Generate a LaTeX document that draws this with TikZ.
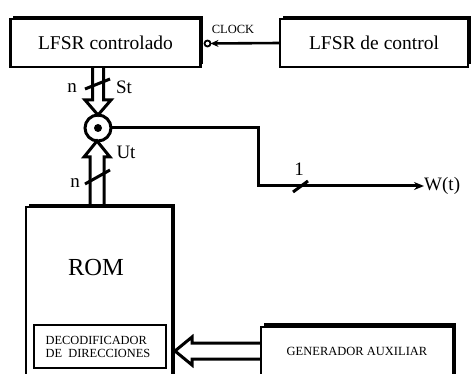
\documentclass[tikz,border=0pt]{standalone}
\usepackage{fontspec}
\setmainfont{Liberation Serif}
\usetikzlibrary{calc,shadows,arrows.meta}
\begin{document}
\begin{tikzpicture}[x=1pt,y=-1pt,
  ln/.style={line width=3pt, line join=miter},
  sbox/.style={draw, line width=2.6pt, fill=white, inner sep=0pt, outer sep=0pt,
    drop shadow={shadow xshift=2.5pt, shadow yshift=3pt, fill=black, opacity=1}},
  pbox/.style={draw, line width=2.4pt, fill=white, inner sep=0pt, outer sep=0pt},
  lbl/.style={inner sep=0pt, font=\fontsize{19}{20}\selectfont},
  big/.style={inner sep=0pt, font=\fontsize{19.5}{21}\selectfont},
  small/.style={inner sep=0pt, font=\fontsize{12.5}{14}\selectfont}
]
\useasboundingbox (0,0) rectangle (471,374);

% boxes
\node[sbox, minimum width=190pt, minimum height=48pt, big] (b1) at (105.5,43) {LFSR controlado};
\node[sbox, minimum width=188pt, minimum height=48pt, big] (b2) at (374,43) {LFSR de control};
\node[sbox, minimum width=146pt, minimum height=193pt] (rom) at (99,303.5) {};
\node[inner sep=0pt, font=\fontsize{24.5}{26}\selectfont] (romt) at (96,268) {ROM};
\node[pbox, minimum width=132pt, minimum height=43pt] (dec) at (100,346.5) {};
\node[small, align=left, font=\fontsize{12.4}{13.5}\selectfont] (dect) at (98,347) {DECODIFICADOR\\DE\ \ DIRECCIONES};
\node[sbox, minimum width=192pt, minimum height=73pt,
  drop shadow={shadow xshift=3pt, shadow yshift=4pt, fill=black, opacity=1}] (gen) at (357,363.5) {};
\node[small] (gent) at (357,351) {GENERADOR AUXILIAR};

% combiner
\node[draw, circle, line width=3pt, minimum size=26pt, inner sep=0pt, outer sep=0pt] (c) at (98,128) {};
\node[fill=black, circle, minimum size=8pt, inner sep=0pt] (cd) at (c) {};

% clock
\node[draw, circle, line width=1.8pt, minimum size=6pt, inner sep=0pt, outer sep=0pt] (ck) at (207.5,43.5) {};
\draw[line width=2.6pt, -{Stealth[length=8pt,width=7pt]}] (b2.west) -- (ck.east);
\node[inner sep=0pt, font=\fontsize{12.5}{14}\selectfont] (clk) at (233,29) {CLOCK};

% St double arrow (down)
\coordinate (s0) at (b1.south -| c.north);
\draw[ln] ($(s0)+(-5.5,0)$) -- ($(c.north)+(-5.5,-15)$) -- ($(c.north)+(-13,-15)$) -- (c.north)
  -- ($(c.north)+(13,-15)$) -- ($(c.north)+(5.5,-15)$) -- ($(s0)+(5.5,0)$);
\draw[ln] (85,89) -- (110,79);
\node[lbl] (n1) at (72,88) {n};
\node[lbl] (st) at (124,87) {St};

% Ut double arrow (up)
\coordinate (u0) at (rom.north -| 97,0);
\coordinate (u1) at ($(c.south)+(-1,0)$);
\draw[ln] ($(u0)+(-7,0)$) -- ($(u1)+(-7,16)$) -- ($(u1)+(-13,16)$) -- (u1)
  -- ($(u1)+(13,16)$) -- ($(u1)+(7,16)$) -- ($(u0)+(7,0)$);
\draw[ln] (85,184) -- (110,170);
\node[lbl] (n2) at (75,183) {n};
\node[lbl] (ut) at (126,152) {Ut};

% output
\node[lbl, anchor=west] (wt) at (424,186) {W(t)};
\coordinate (k) at (258,186);
\draw[ln, -{Stealth[length=10pt,width=8pt]}] (c.east) -| (k) -- (wt.west);
\draw[ln] (293,192) -- (308,181);
\node[lbl] (one) at (299,169) {1};

% generator to ROM double arrow (left)
\coordinate (g1) at ($(rom.east |- gent)+(3,0)$);
\coordinate (g0) at (gen.west |- gent);
\draw[ln] ($(g0)+(0,-8)$) -- ($(g1)+(17,-8)$) -- ($(g1)+(17,-14)$) -- (g1)
  -- ($(g1)+(17,14)$) -- ($(g1)+(17,8)$) -- ($(g0)+(0,8)$);
\end{tikzpicture}
\end{document}
